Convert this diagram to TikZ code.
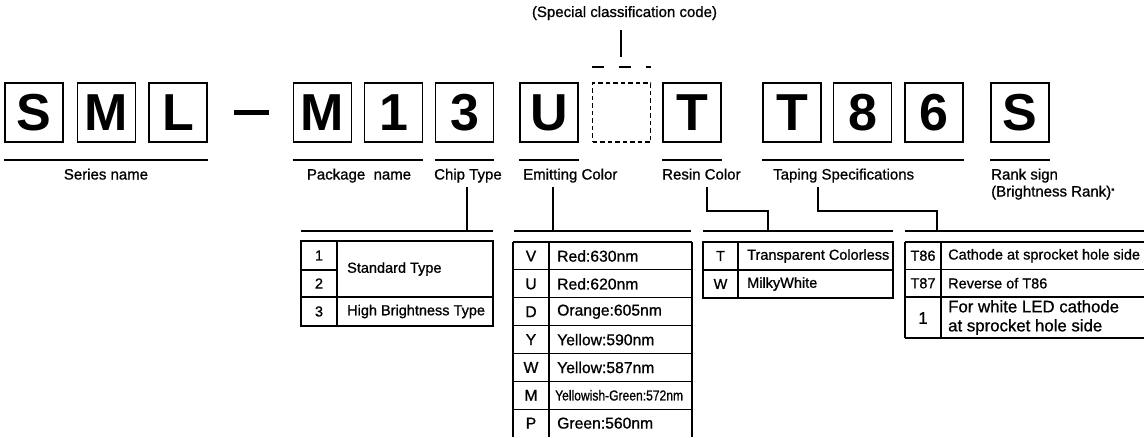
\documentclass[tikz,border=0pt]{standalone}
\usepackage{fontspec}
\setmainfont{Liberation Sans}
\newfontfamily\heavyfont[FakeBold=0.9]{Liberation Sans}
\begin{document}
\begin{tikzpicture}[x=1pt,y=-1pt,
  letterbox/.style={draw, line width=1.3pt, minimum width=58pt, minimum height=59pt, inner sep=0pt,
    font=\fontsize{52}{52}\selectfont\bfseries},
  dashbox/.style={draw, line width=1.1pt, dash pattern=on 4.5pt off 3pt, minimum width=58pt, minimum height=59pt, inner sep=0pt},
  uline/.style={line width=1.2pt},
  tline/.style={line width=1.2pt},
  lbl/.style={font=\heavyfont\fontsize{15}{17}\selectfont, inner sep=0pt},
  cell/.style={font=\heavyfont\fontsize{14.5}{17}\selectfont, inner sep=0pt},
  cellw/.style={cell, anchor=west},
  ecell/.style={font=\heavyfont\fontsize{15.7}{18}\selectfont, inner sep=0pt},
  ecellw/.style={ecell, anchor=west},
  bigcell/.style={font=\heavyfont\fontsize{16.8}{19}\selectfont, inner sep=0pt},
]
\useasboundingbox (0,0) rectangle (1144,437);
\coordinate (ul) at (0,160);

% ---------- letter boxes ----------
\node[letterbox] (S1) at (34,112.5) {S};
\node[letterbox] (M1) at (106.5,112.5) {M};
\node[letterbox] (L)  at (178,112.5) {L};
\coordinate (dashL) at (234,112.5);
\coordinate (dashR) at (269,112.5);
\draw[line width=4.5pt] (dashL) -- (dashR);
\node[letterbox] (M2) at (322.5,112.5) {M};
\node[letterbox] (N1) at (393.5,112.5) {1};
\node[letterbox] (N3) at (464.5,112.5) {3};
\node[letterbox] (U)  at (549,112.5) {U};
\node[dashbox]   (X)  at (621.5,112.5) {};
\node[letterbox] (T1) at (692,112.5) {T};
\node[letterbox] (T2) at (792,112.5) {T};
\node[letterbox] (N8) at (862.5,112.5) {8};
\node[letterbox] (N6) at (934,112.5) {6};
\node[letterbox] (S2) at (1020,112.5) {S};

% ---------- underlines ----------
\draw[uline] (S1.west |- ul) -- (L.east |- ul);
\draw[uline] (M2.west |- ul) -- (N1.east |- ul);
\draw[uline] (N3.west |- ul) -- (N3.east |- ul);
\draw[uline] (U.west |- ul) -- (U.east |- ul);
\draw[uline] (T1.west |- ul) -- (T1.east |- ul);
\draw[uline] (T2.west |- ul) -- (N6.east |- ul);
\draw[uline] (S2.west |- ul) -- (S2.east |- ul);

% ---------- special code ----------
\node[lbl, anchor=base] (lspecial) at (624.5,17) {(Special classification code)};
\coordinate (spTop) at (621,30);
\coordinate (spBot) at (621,57);
\draw[tline] (spTop) -- (spBot);
\coordinate (ov) at (0,67);
\draw[line width=1.2pt, dash pattern=on 12.5pt off 14.5pt] (X.west |- ov) -- (X.east |- ov);

% ---------- labels ----------
\node[lbl, anchor=base] (lseries) at (106,179.5) {Series name};
\node[lbl, anchor=base] (lpack) at (359,179.5) {Package\ \ name};
\node[lbl, anchor=base west] (lchip) at (434,179.5) {Chip Type};
\node[lbl, anchor=base west] (lemit) at (523,179.5) {Emitting Color};
\node[lbl, anchor=base west] (lresin) at (662,179.5) {Resin Color};
\node[lbl, anchor=base west] (ltape) at (773,179.5) {Taping Specifications};
\node[lbl, anchor=base west] (lrank) at (991,179.5) {Rank sign};
\node[lbl, anchor=base west] (lrank2) at (991,196.5) {(Brightness Rank)\raisebox{3pt}{\fontsize{8}{8}\selectfont *}};

% ---------- bars above tables ----------
\coordinate (chipbarL) at (301,231);  \coordinate (chipbarR) at (493,231);
\coordinate (emitbarL) at (514,231);  \coordinate (emitbarR) at (691,231);
\coordinate (resinbarL) at (703,231); \coordinate (resinbarR) at (893,231);
\coordinate (tapebarL) at (905,231);  \coordinate (tapebarR) at (1144,231);
\draw[tline] (chipbarL) -- (chipbarR);
\draw[tline] (emitbarL) -- (emitbarR);
\draw[tline] (resinbarL) -- (resinbarR);
\draw[tline] (tapebarL) -- (tapebarR);

% ---------- connectors ----------
\coordinate (chipc) at (467,187);
\draw[tline] (chipc) -- (chipc |- chipbarL);
\coordinate (emitc) at (553,187);
\draw[tline] (emitc) -- (emitc |- emitbarL);
\coordinate (resinc) at (707,187);
\coordinate (resinj) at (768,231);
\draw[tline] (resinc) -- (707,211) -| (resinj);
\coordinate (tapec) at (818,187);
\coordinate (tapej) at (937,231);
\draw[tline] (tapec) -- (818,211) -| (tapej);

% ---------- chip type table ----------
\draw[tline] (301,241) rectangle (493,326);
\draw[tline] (337,241) -- (337,326);
\draw[tline] (301,270) -- (337,270);
\draw[tline] (301,297) -- (493,297);
\node[cell] (c1) at (319,255.5) {1};
\node[cell] (c2) at (319,283.5) {2};
\node[cell] (c3) at (319,311.5) {3};
\node[cellw] (cstd) at (347,269) {Standard Type};
\node[cellw] (chigh) at (347,311.5) {High Brightness Type};

% ---------- emitting colour table ----------
\foreach \xx in {513,549,692} \draw[tline] (\xx,242) -- (\xx,437);
\foreach \i in {0,...,6} \draw[tline] (513,242+27.86*\i) -- (692,242+27.86*\i);
\foreach \k/\t [count=\i from 0] in {V/Red:630nm, U/Red:620nm, D/Orange:605nm, Y/Yellow:590nm, W/Yellow:587nm}{
  \node[ecell] (ek\i) at (531,256+27.86*\i) {\k};
  \node[ecellw] (et\i) at (557,256+27.86*\i) {\t};
}
\node[ecell] (ek5) at (531,256+27.86*5) {M};
\node[ecellw] (et5) at (555,256+27.86*5) {\scalebox{0.77}[0.92]{Yellowish-Green:572nm}};
\node[ecell] (ek6) at (531,256+27.86*6) {P};
\node[ecellw] (et6) at (557,256+27.86*6) {Green:560nm};

% ---------- resin colour table ----------
\draw[tline] (703,242) rectangle (893,298);
\draw[tline] (738,242) -- (738,298);
\draw[tline] (703,270) -- (893,270);
\node[cell] (rk1) at (720.5,256) {T};
\node[cellw] (rt1) at (747,256) {Transparent Colorless};
\node[cell] (rk2) at (720.5,284) {W};
\node[cellw] (rt2) at (747,284) {MilkyWhite};

% ---------- taping table ----------
\foreach \yy in {242,269.5,297,338} \draw[tline] (905,\yy) -- (1144,\yy);
\draw[tline] (905,242) -- (905,338);
\draw[tline] (941,242) -- (941,338);
\node[cell] (tk1) at (923,255.75) {T86};
\node[cellw] (tt1) at (948,255.75) {Cathode at sprocket hole side};
\node[cell] (tk2) at (923,283.25) {T87};
\node[cellw] (tt2) at (948,283.25) {Reverse of T86};
\node[bigcell] (tk3) at (923,318) {1};
\node[bigcell, anchor=west, align=left] (tt3) at (948,317.5) {For white LED cathode\\at sprocket hole side};
\end{tikzpicture}
\end{document}
